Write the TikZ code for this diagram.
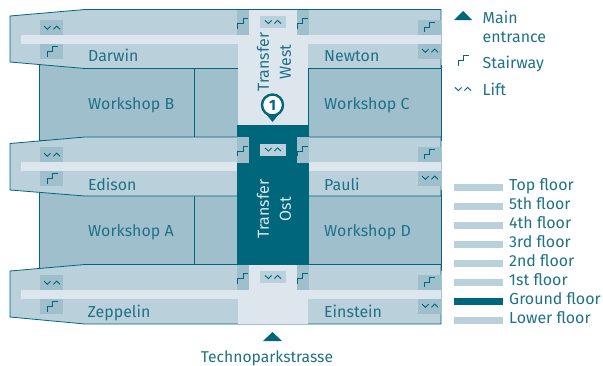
\documentclass[tikz,border=0pt]{standalone}
\usepackage{fontspec}
\setmainfont{Fira Sans}
\definecolor{dk}{HTML}{00667C}
\definecolor{wing}{HTML}{BAD0DB}
\definecolor{shop}{HTML}{9FBFCC}
\definecolor{lt}{HTML}{DDE6EC}
\definecolor{txt}{HTML}{1F7187}
\tikzset{
 x=1bp,y=-1bp,
 wingshape/.style={fill=wing,draw=dk,line width=.8bp},
 shopshape/.style={fill=shop,draw=dk,line width=.8bp},
 label/.style={text=txt,font=\fontsize{16}{18}\selectfont,inner sep=0pt,anchor=base west},
 leg/.style={text=txt,font=\fontsize{16}{18}\selectfont,inner sep=0pt,anchor=base west},
 sq/.style={fill=shop,draw=none},
 ico/.style={draw=dk,line width=.9bp,fill=none},
 lightbar/.style={fill=lt,draw=none},
 stairs/.pic={\draw[ico] (-5.3,5.4)--(-5.3,.4)--(0,.4)--(0,-5)--(5.3,-5);},
 liftico/.pic={\draw[ico] (-8,-1.6)--(-4.7,1.6)--(-1.4,-1.6) (1.4,1.6)--(4.7,-1.6)--(8,1.6);}
}
\begin{document}
\begin{tikzpicture}
\useasboundingbox (0,0) rectangle (603,365);
% workshops
\filldraw[shopshape] (39.5,60) rectangle (238,140);
\filldraw[shopshape] (39.5,190) rectangle (238,270);
\filldraw[shopshape] (308,65) rectangle (441,140);
\filldraw[shopshape] (308,190) rectangle (441,270);
\draw[shopshape] (194,68) -- (194,137) (194,196) -- (194,265);
% wings
\filldraw[wingshape] (10,16)--(85,9.5)--(441,9.5)--(441,68.5)--(85,68.5)--(10,62)--cycle;
\filldraw[wingshape] (10,143.5)--(85,137)--(441,137)--(441,196)--(85,196)--(10,190)--cycle;
\filldraw[wingshape] (10,271)--(85,264.5)--(441,264.5)--(441,324)--(85,324)--(10,317)--cycle;
% light strips
\fill[lightbar] (21,35) rectangle (440.6,44);
\fill[lightbar] (21,162) rectangle (440.6,171);
\fill[lightbar] (21,290) rectangle (440.6,299);
% transfer zones
\fill[lightbar] (238,10) rectangle (308,125);
\fill[dk] (237,125) rectangle (309,265);
\fill[lightbar] (238,265) rectangle (308,323.6);
% squares with icons
\foreach \y in {9.5,137,264.5}{
 \fill[sq] (237,\y) rectangle (249,\y+25.5);
 \fill[sq] (297,\y) rectangle (309,\y+25.5);
 \fill[wing] (260,\y+6.5) rectangle (286,\y+18.5);
 \pic at (243,\y+14) {stairs};
 \pic at (302.7,\y+14) {stairs};
 \pic at (273,\y+12.5) {liftico};
}
\foreach \a/\b in {20/44,147/171,275/299}{
 \fill[sq] (40,\a) rectangle (63,\a+15);
 \pic at (52,\a+7.7) {liftico};
 \fill[sq] (40,\b) rectangle (63,\b+15);
 \pic at (52.7,\b+7.3) {stairs};
 \fill[sq] (418,\a) rectangle (440.6,\a+15);
 \pic at (429.5,\a+7) {stairs};
 \fill[sq] (418,\b) rectangle (440.6,\b+15);
 \pic at (430,\b+6.7) {liftico};
}
% labels
\node[label] (darwin) at (88,61) {Darwin};
\node[label] (edison) at (88,190) {Edison};
\node[label] (zeppelin) at (87.5,317) {Zeppelin};
\node[label] (newton) at (324,61) {Newton};
\node[label] (pauli) at (324,190) {Pauli};
\node[label] (einstein) at (324,317) {Einstein};
\node[label] (wb) at (88,109) {Workshop B};
\node[label] (wa) at (88,236) {Workshop A};
\node[label] (wc) at (324,109) {Workshop C};
\node[label] (wd) at (324,236) {Workshop D};
\node[label,rotate=90,align=center,anchor=center] (tw) at (274,62) {Transfer\\[4pt]West};
\node[label,rotate=90,align=center,anchor=center,text=lt] (to) at (274,209) {Transfer\\[4pt]Ost};
% pin
\fill[dk] (262.5,109.5) -- (272.5,122) -- (282.5,109.5) -- cycle;
\filldraw[fill=white,draw=dk,line width=2.4bp] (272.5,105) circle (10.5);
\node[text=dk,font=\bfseries\fontsize{15}{15}\selectfont,inner sep=0pt] (one) at (272.5,105) {1};
% entrance
\fill[dk] (263,341) -- (272.5,332) -- (282,341) -- cycle;
\node[leg,anchor=base,font=\fontsize{15.7}{18}\selectfont] (road) at (267,362) {Technoparkstrasse};
% legend
\fill[dk] (454,20) -- (463,11) -- (472,20) -- cycle;
\node[leg] (main) at (482.5,23) {Main};
\node[leg] (entr) at (482.5,42.5) {entrance};
\pic at (463.5,60.5) {stairs};
\node[leg] (stair) at (482.5,68) {Stairway};
\pic at (463,89) {liftico};
\node[leg] (lift) at (482.5,95.5) {Lift};
\foreach \y/\t/\c in {184/Top floor/wing,203/5th floor/wing,222/4th floor/wing,241/3rd floor/wing,260/2nd floor/wing,279/1st floor/wing,298/Ground floor/dk,317/Lower floor/wing}{
 \fill[\c] (454,\y) rectangle (503,\y+7);
 \node[leg] at (509,\y+6.5) {\t};
}
\end{tikzpicture}
\end{document}
